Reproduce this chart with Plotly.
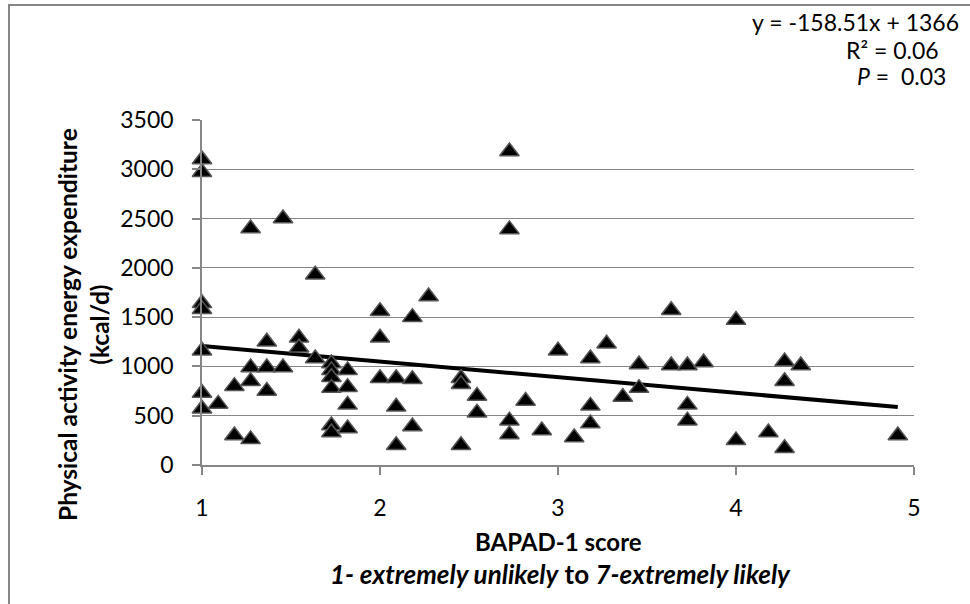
import plotly.graph_objects as go

# ---- data ----
score_x = (
    [1.0] * 7 + [1.091] + [1.182] * 2 + [1.273] * 4 + [1.364] * 3 + [1.455] * 2
    + [1.545] * 2 + [1.636] * 2 + [1.727] * 6 + [1.818] * 4 + [2.0] * 3
    + [2.091] * 3 + [2.182] * 3 + [2.273] + [2.455] * 3 + [2.545] * 2
    + [2.727] * 4 + [2.818] + [2.909] + [3.0] + [3.091] + [3.182] * 3
    + [3.273] + [3.364] + [3.455] * 2 + [3.636] * 2 + [3.727] * 3 + [3.818]
    + [4.0] * 2 + [4.182] + [4.273] * 3 + [4.364] + [4.909]
)
energy_y = [
    3100, 2970, 1640, 1580, 1160, 730, 570,
    620,
    800, 300,
    2400, 990, 850, 260,
    1250, 990, 750,
    2500, 990,
    1290, 1190,
    1930, 1080,
    1030, 960, 890, 780, 400, 330,
    960, 790, 610, 370,
    1560, 1290, 880,
    880, 590, 200,
    1500, 870, 390,
    1710,
    880, 820, 200,
    700, 530,
    3180, 2390, 450, 310,
    650,
    350,
    1160,
    280,
    1080, 600, 420,
    1230,
    690,
    1020, 780,
    1570, 1010,
    1010, 610, 450,
    1040,
    1470, 250,
    330,
    1050, 850, 170,
    1010,
    300,
]
slope = -158.51
intercept = 1366
x_ticks = [1, 2, 3, 4, 5]
y_ticks = [0, 500, 1000, 1500, 2000, 2500, 3000, 3500]

W, H = 970, 604
L, R, T, B = 202, 914, 120, 465
FONT = "Lato"
GRID = "#868686"


def px(xp):
    return (xp - L) / (R - L)


def py(yp):
    return (B - yp) / (B - T)


trend_x = [min(score_x), max(score_x)]
trend_y = [slope * v + intercept for v in trend_x]

fig = go.Figure()
fig.add_trace(go.Scatter(
    x=trend_x, y=trend_y, mode="lines", cliponaxis=False,
    line=dict(color="black", width=4), hoverinfo="skip", showlegend=False,
))
fig.add_trace(go.Scatter(
    x=score_x, y=energy_y, mode="markers", cliponaxis=False,
    marker=dict(symbol="triangle-up", size=17, color="black",
                line=dict(color="#555555", width=1.5)),
    showlegend=False,
))

fig.update_layout(
    width=W, height=H,
    margin=dict(l=L, r=W - R, t=T, b=H - B, pad=0),
    paper_bgcolor="white", plot_bgcolor="white",
    font=dict(family=FONT, size=23, color="black"),
    xaxis=dict(
        range=[1, 5], tickvals=x_ticks, showgrid=False, zeroline=False,
        showline=True, linecolor=GRID, linewidth=1.5,
        ticks="outside", ticklen=8, tickcolor=GRID, tickwidth=1.5,
        ticklabelstandoff=14, tickfont=dict(size=23),
    ),
    yaxis=dict(
        range=[0, 3500], tickvals=y_ticks, showgrid=True, gridcolor=GRID,
        gridwidth=1.3, zeroline=False,
        showline=True, linecolor=GRID, linewidth=1.5,
        ticks="outside", ticklen=8, tickcolor=GRID, tickwidth=1.5,
        ticklabelstandoff=14, tickfont=dict(size=23),
    ),
    shapes=[dict(
        type="rect", xref="paper", yref="paper",
        x0=px(9), x1=px(990), y0=py(620), y1=py(5),
        line=dict(color=GRID, width=2), fillcolor="rgba(0,0,0,0)", layer="below",
    )],
)

ann = [
    dict(text="<b>BAPAD-1 score</b>", x=px(558), y=py(541), size=24),
    dict(text="<b><i>1- extremely unlikely</i> to <i>7-extremely likely</i></b>",
         x=px(560), y=py(574), size=26),
    dict(text="<b>Physical activity energy expenditure<br>(kcal/d)</b>",
         x=px(83), y=py(325), size=24.5, angle=-90),
    dict(text="y = -158.51x + 1366", x=px(855), y=py(22), size=23),
    dict(text="R² = 0.06", x=px(892), y=py(50), size=23),
    dict(text="<i>P</i> =  0.03", x=px(901), y=py(76), size=23),
]
for a in ann:
    fig.add_annotation(
        text=a["text"], x=a["x"], y=a["y"], xref="paper", yref="paper",
        xanchor="center", yanchor="middle", showarrow=False,
        textangle=a.get("angle", 0),
        font=dict(family=FONT, size=a["size"], color="black"),
    )

fig.write_html("out.html")
